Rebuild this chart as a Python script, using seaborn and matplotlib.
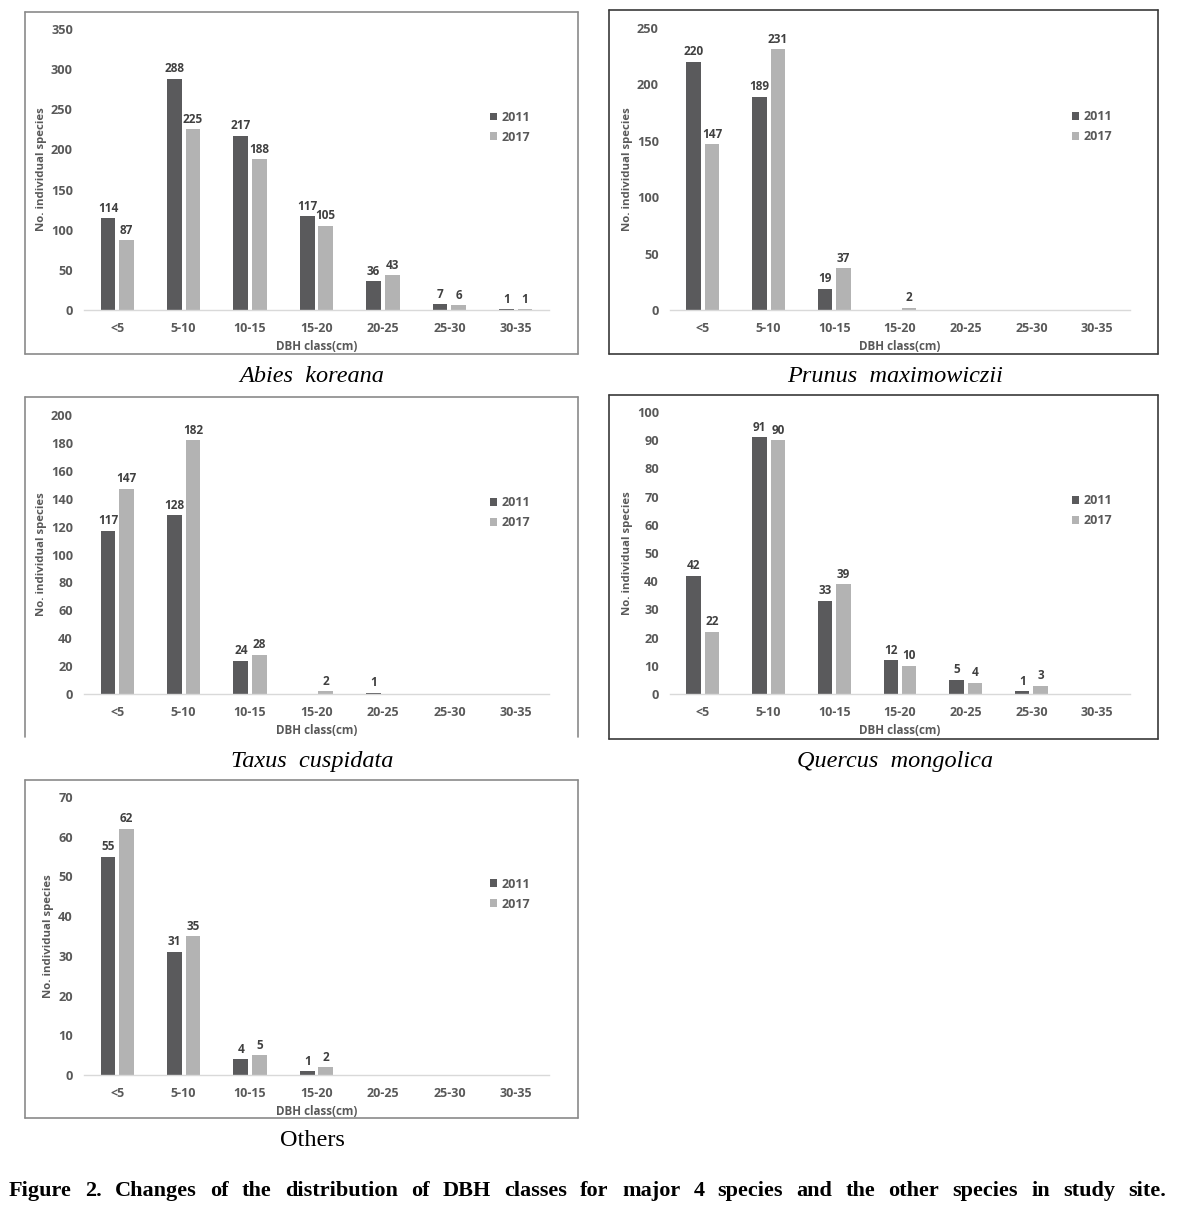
import numpy as np
import pandas as pd
import matplotlib
matplotlib.use("Agg")
import matplotlib.pyplot as plt
from matplotlib.lines import Line2D
import seaborn as sns

# ---------------- data ----------------
classes = ["<5", "5-10", "10-15", "15-20", "20-25", "25-30", "30-35"]
years = ["2011", "2017"]

abies_2011 = [114, 288, 217, 117, 36, 7, 1]
abies_2017 = [87, 225, 188, 105, 43, 6, 1]
prunus_2011 = [220, 189, 19, 0, 0, 0, 0]
prunus_2017 = [147, 231, 37, 2, 0, 0, 0]
taxus_2011 = [117, 128, 24, 0, 1, 0, 0]
taxus_2017 = [147, 182, 28, 2, 0, 0, 0]
quercus_2011 = [42, 91, 33, 12, 5, 1, 0]
quercus_2017 = [22, 90, 39, 10, 4, 3, 0]
others_2011 = [55, 31, 4, 1, 0, 0, 0]
others_2017 = [62, 35, 5, 2, 0, 0, 0]

panel_titles = ["Abies  koreana", "Prunus  maximowiczii", "Taxus  cuspidata",
                "Quercus  mongolica", "Others"]
y_max = [350, 250, 200, 100, 70]
y_step = [50, 50, 20, 10, 10]
fig_caption = ("Figure 2. Changes of the distribution of DBH classes for major 4 "
               "species and the other species in study site.")

# ---------------- style ----------------
sns.set_style("white")
plt.rcParams["font.family"] = ["Open Sans", "DejaVu Sans"]

W, H = 1178, 1207
DARK = "#5a5a5c"
LIGHT = "#b3b3b3"
TXT = "#595959"
LBL = "#404040"
AXC = "#d9d9d9"

fig = plt.figure(figsize=(W / 100, H / 100), dpi=100)


def fx(x):
    return x / W


def fy(y):
    return 1 - y / H


# axes rectangles in pixel coords: left, top, right, bottom
axes_px = [
    (84, 29, 549, 310),
    (670, 28, 1130, 310),
    (84, 415, 549, 694),
    (670, 412, 1130, 694),
    (84, 797, 549, 1075),
]
# boxes: left, top, right, bottom, color, draw bottom
boxes = [
    (25, 12, 578, 354, "#8a8a8a", True),
    (609, 10, 1158, 354, "#3a3a3a", True),
    (25, 397, 578, 737, "#8a8a8a", False),
    (609, 395, 1158, 739, "#3a3a3a", True),
    (25, 780, 578, 1118, "#8a8a8a", True),
]
captions = [
    (312, 377, "italic"),
    (895, 377, "italic"),
    (312, 761, "italic"),
    (895, 761, "italic"),
    (312, 1140, "normal"),
]

series = [
    (abies_2011, abies_2017),
    (prunus_2011, prunus_2017),
    (taxus_2011, taxus_2017),
    (quercus_2011, quercus_2017),
    (others_2011, others_2017),
]

for i, ((v11, v17), (l, t, r, b)) in enumerate(zip(series, axes_px)):
    ax = fig.add_axes([fx(l), fy(b), fx(r - l), (b - t) / H])
    df = pd.DataFrame({
        "DBH": classes * 2,
        "year": [years[0]] * len(classes) + [years[1]] * len(classes),
        "count": list(v11) + list(v17),
    })
    sns.barplot(data=df, x="DBH", y="count", hue="year", hue_order=years,
                order=classes, palette=[DARK, LIGHT], width=0.56, gap=0.21,
                linewidth=0, errorbar=None, ax=ax)
    for c in ax.containers:
        labs = [f"{int(v)}" if v > 0 else "" for v in c.datavalues]
        ax.bar_label(c, labels=labs, padding=2.5, fontsize=8.5,
                     fontweight="bold", color=LBL)
    ax.set_xlim(-0.5, len(classes) - 0.5)
    ax.set_ylim(0, y_max[i])
    ax.set_yticks(np.arange(0, y_max[i] + 1, y_step[i]))
    ax.set_yticklabels([str(v) for v in np.arange(0, y_max[i] + 1, y_step[i])])
    for s in ["top", "right", "left"]:
        ax.spines[s].set_visible(False)
    ax.spines["bottom"].set_color(AXC)
    ax.spines["bottom"].set_linewidth(1.0)
    ax.set_xticks(np.arange(-0.5, len(classes), 1.0), minor=True)
    ax.tick_params(axis="x", which="major", length=0, pad=8.5, labelsize=9,
                   labelcolor=TXT)
    ax.tick_params(axis="x", which="minor", length=5, width=1.0, color=AXC,
                   direction="out")
    ax.tick_params(axis="y", length=0, pad=8, labelsize=9.2, labelcolor=TXT)
    for lab in ax.get_xticklabels() + ax.get_yticklabels():
        lab.set_fontweight("bold")
    ax.set_xlabel("DBH class(cm)", fontsize=8.4, fontweight="bold", color=TXT,
                  labelpad=3.5)
    ax.set_ylabel("No. individual species", fontsize=8.2, fontweight="bold",
                  color=TXT, labelpad=3)
    ax.grid(False)
    sns.move_legend(ax, loc="center left", bbox_to_anchor=(0.873, 0.65),
                    frameon=False, title=None, fontsize=9, handlelength=0.6,
                    handleheight=0.6, handletextpad=0.35, labelspacing=0.55,
                    borderpad=0, borderaxespad=0)
    leg = ax.get_legend()
    for txt in leg.get_texts():
        txt.set_color(TXT)
        txt.set_fontweight("bold")

# boxes
for (l, t, r, b, col, draw_bottom) in boxes:
    segs = [((l, l), (t, b)), ((r, r), (t, b)), ((l, r), (t, t))]
    if draw_bottom:
        segs.append(((l, r), (b, b)))
    for xs, ys in segs:
        fig.add_artist(Line2D([fx(xs[0]), fx(xs[1])], [fy(ys[0]), fy(ys[1])],
                              transform=fig.transFigure, color=col, lw=1.2))

# panel captions
for (x, y, style), title in zip(captions, panel_titles):
    fig.text(fx(x), fy(y), title, ha="center", va="center", fontsize=17.5,
             style=style, family=["Liberation Serif", "DejaVu Serif"],
             color="black")

# justified figure caption
words = fig_caption.split(" ")
cap_size = 16
texts = [fig.text(0, fy(1191), w, ha="left", va="center", fontsize=cap_size,
                  fontweight="bold", family=["Liberation Serif", "DejaVu Serif"],
                  color="black") for w in words]
fig.canvas.draw()
renderer = fig.canvas.get_renderer()
widths = [t.get_window_extent(renderer).width for t in texts]
x0, x1 = 9, 1166
gap = (x1 - x0 - sum(widths)) / (len(words) - 1)
x = x0
for t, w in zip(texts, widths):
    t.set_x(fx(x))
    x += w + gap

fig.savefig("out.png", dpi=100)
